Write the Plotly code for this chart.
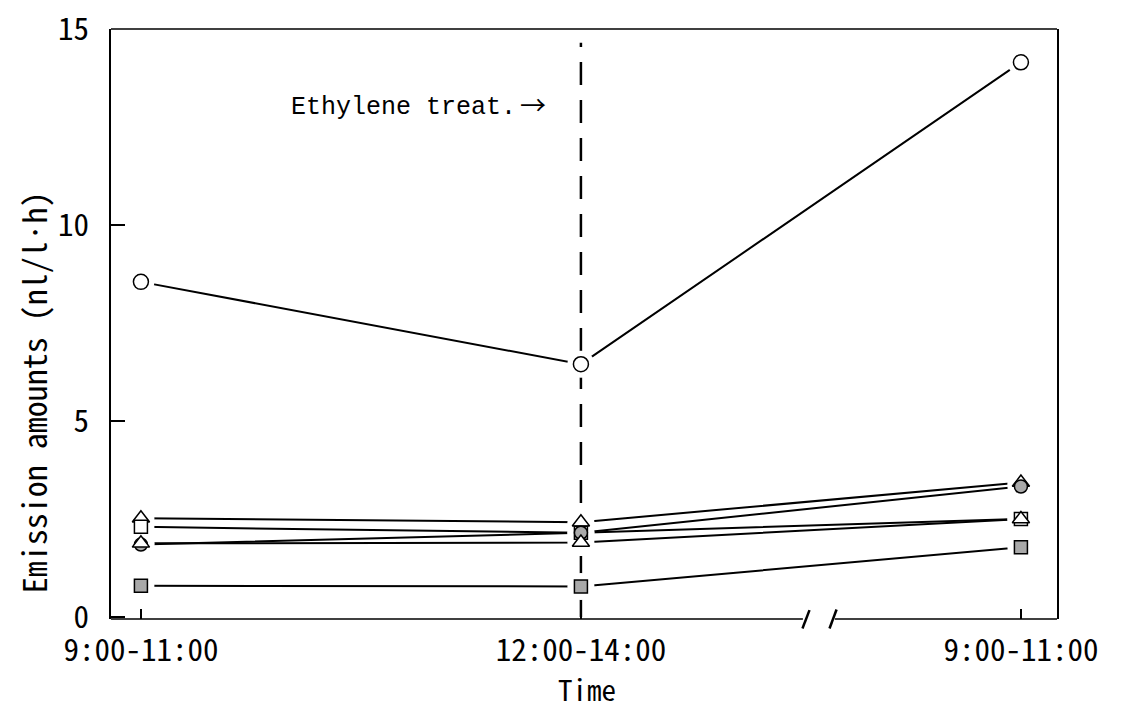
import plotly.graph_objects as go

# Sampling periods (third point is the following morning, after the axis break)
time_labels = ["9:00-11:00", "12:00-14:00", "9:00-11:00"]
x_pos = [0, 1, 2]

# Emission amounts (nl/l·h) per compound series
circle_open = [8.55, 6.45, 14.15]
triangle_a = [2.52, 2.42, 3.43]
square_open = [2.30, 2.15, 2.50]
circle_gray = [1.85, 2.15, 3.33]
triangle_b = [1.88, 1.90, 2.50]
square_gray = [0.80, 0.78, 1.78]

treat_x = 1            # ethylene treatment applied at the midday sampling
x_range = [-0.068, 2.082]
y_range = [-0.05, 15.0]
break_left, break_right = 1.5045, 1.577   # gap in the time axis

MONO_JP = "Noto Sans Mono CJK JP, Noto Sans CJK JP, DejaVu Sans Mono, monospace"
GRAY = "#a9a9a9"

series = [
    (circle_open, "circle", 15, "white"),
    (triangle_a, "triangle-up", 15, "white"),
    (square_open, "square", 13, "white"),
    (circle_gray, "circle", 13, GRAY),
    (triangle_b, "triangle-up", 15, "white"),
    (square_gray, "square", 13, GRAY),
]

fig = go.Figure()

# connecting lines
for vals, sym, size, fill in series:
    fig.add_trace(go.Scatter(x=x_pos, y=vals, mode="lines",
                             line=dict(color="black", width=2),
                             hoverinfo="skip", showlegend=False))

# white halos so the lines stop short of each symbol
for vals, sym, size, fill in series:
    fig.add_trace(go.Scatter(x=x_pos, y=vals, mode="markers",
                             marker=dict(symbol="circle", size=27, color="white",
                                         line=dict(width=0)),
                             hoverinfo="skip", showlegend=False))

# symbols
for vals, sym, size, fill in series:
    fig.add_trace(go.Scatter(x=x_pos, y=vals, mode="markers",
                             marker=dict(symbol=sym, size=size, color=fill,
                                         line=dict(color="black", width=1.5)),
                             showlegend=False))

shapes = [
    # treatment marker
    dict(type="line", xref="x", yref="y", x0=treat_x, x1=treat_x, y0=0, y1=14.65,
         line=dict(color="black", width=2.5, dash="23px,15px"), layer="below"),
    # top frame
    dict(type="line", xref="paper", yref="paper", x0=0, x1=1, y0=1, y1=1,
         line=dict(color="black", width=1.5)),
    # bottom axis with a break
    dict(type="line", xref="x", yref="paper", x0=x_range[0], x1=break_left, y0=0, y1=0,
         line=dict(color="black", width=1.5)),
    dict(type="line", xref="x", yref="paper", x0=break_right, x1=x_range[1], y0=0, y1=0,
         line=dict(color="black", width=1.5)),
    dict(type="line", xref="x", yref="paper", x0=break_left - 0.001, x1=break_left + 0.015,
         y0=-0.016, y1=0.015, line=dict(color="black", width=2.5)),
    dict(type="line", xref="x", yref="paper", x0=break_right - 0.012, x1=break_right + 0.004,
         y0=-0.016, y1=0.016, line=dict(color="black", width=2.5)),
]

annotations = [
    dict(text="Ethylene treat.", xref="x", yref="y", x=0.857, y=13.0,
         xanchor="right", yanchor="middle", showarrow=False,
         font=dict(family="Liberation Mono, monospace", size=25, color="black")),
    dict(text="→", xref="x", yref="y", x=0.925, y=13.1,
         xanchor="right", yanchor="middle", showarrow=False,
         font=dict(family="Noto Sans CJK JP, DejaVu Sans", size=26, color="black")),
    dict(text="Emission amounts (nl/l·h)", xref="paper", yref="paper",
         x=-0.083, y=0.385, textangle=-90, xanchor="center", yanchor="middle",
         showarrow=False, font=dict(family=MONO_JP, size=32, color="black")),
    dict(text="Time", xref="paper", yref="paper", x=0.503, y=-0.117,
         xanchor="center", yanchor="middle", showarrow=False,
         font=dict(family=MONO_JP, size=29, color="black")),
]

fig.update_layout(
    width=1121, height=709,
    margin=dict(l=111, r=64, t=29, b=90, autoexpand=False),
    paper_bgcolor="white", plot_bgcolor="white",
    shapes=shapes, annotations=annotations,
    xaxis=dict(range=x_range, tickvals=x_pos, ticktext=time_labels,
               ticks="inside", ticklen=10, tickwidth=1.5, tickcolor="black",
               showline=False, showgrid=False, zeroline=False, automargin=False,
               ticklabelstandoff=10,
               tickfont=dict(family=MONO_JP, size=31, color="black")),
    yaxis=dict(range=y_range, tickvals=[0, 5, 10, 15],
               ticks="inside", ticklen=14, tickwidth=1.5, tickcolor="black",
               showline=True, linecolor="black", linewidth=1.5, mirror=True,
               showgrid=False, zeroline=False, automargin=False,
               ticklabelstandoff=14,
               tickfont=dict(family=MONO_JP, size=31, color="black")),
)

fig.write_html("out.html")
